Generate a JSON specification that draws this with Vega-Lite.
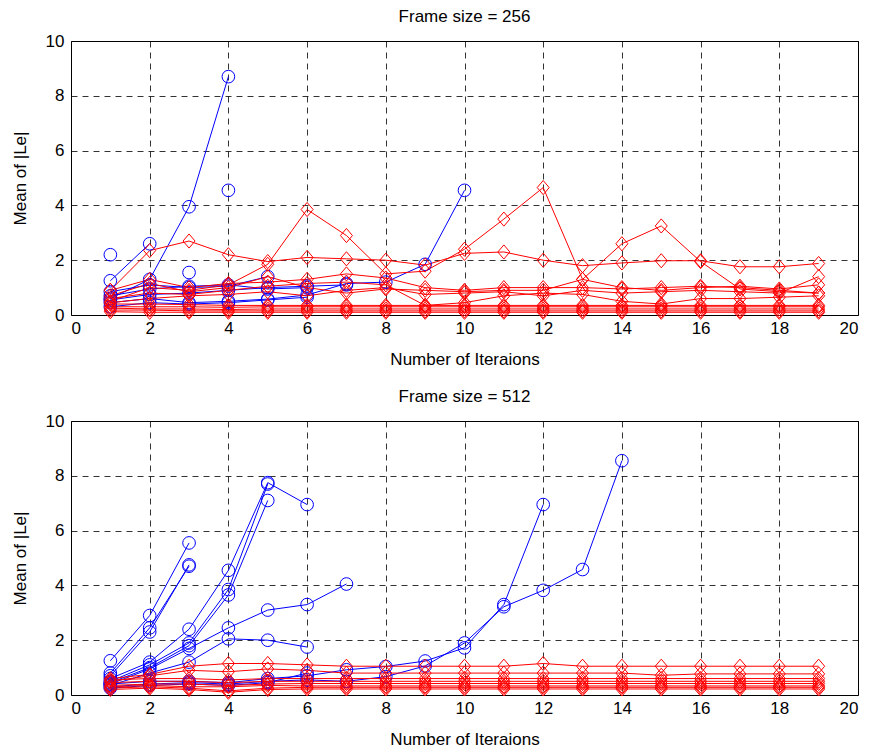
{
  "$schema": "https://vega.github.io/schema/vega-lite/v6.json",
  "padding": {"left": 10, "top": 7, "right": 10, "bottom": 0},
  "spacing": 106,
  "bounds": "flush",
  "config": {
    "font": "Liberation Sans",
    "view": {"stroke": "black", "strokeWidth": 1},
    "axis": {
      "grid": true, "gridColor": "black", "gridDash": [6, 5], "gridOpacity": 1, "gridWidth": 0.8,
      "domain": false, "ticks": false,
      "labelColor": "black", "labelFontSize": 17, "labelPadding": 7,
      "titleColor": "black", "titleFontSize": 17, "titleFontWeight": "normal"
    },
    "axisX": {"labelPadding": 5, "titlePadding": 15},
    "axisY": {"titlePadding": 16},
    "title": {"fontSize": 17, "fontWeight": "normal", "color": "black", "offset": 6, "frame": "group"}
  },
  "datasets": {
    "top": [
      {"s":"b1","c":"b","x":1,"y":1.25},{"s":"b1","c":"b","x":2,"y":2.6},
      {"s":"b2","c":"b","x":1,"y":0.6},{"s":"b2","c":"b","x":2,"y":1.3},{"s":"b2","c":"b","x":3,"y":3.95},{"s":"b2","c":"b","x":4,"y":8.7},
      {"s":"b3","c":"b","x":1,"y":2.2},
      {"s":"b4","c":"b","x":3,"y":1.55},
      {"s":"b5","c":"b","x":4,"y":4.55},
      {"s":"b6","c":"b","x":1,"y":0.85},{"s":"b6","c":"b","x":2,"y":1.1},{"s":"b6","c":"b","x":3,"y":1.0},{"s":"b6","c":"b","x":4,"y":1.05},{"s":"b6","c":"b","x":5,"y":1.4},
      {"s":"b7","c":"b","x":1,"y":0.55},{"s":"b7","c":"b","x":2,"y":0.75},{"s":"b7","c":"b","x":3,"y":0.8},{"s":"b7","c":"b","x":4,"y":0.9},{"s":"b7","c":"b","x":5,"y":1.0},{"s":"b7","c":"b","x":6,"y":1.05},{"s":"b7","c":"b","x":7,"y":1.1},
      {"s":"b8","c":"b","x":1,"y":0.45},{"s":"b8","c":"b","x":2,"y":0.6},{"s":"b8","c":"b","x":3,"y":0.45},{"s":"b8","c":"b","x":4,"y":0.5},{"s":"b8","c":"b","x":5,"y":0.58},{"s":"b8","c":"b","x":6,"y":0.73},{"s":"b8","c":"b","x":7,"y":1.15},{"s":"b8","c":"b","x":8,"y":1.2},{"s":"b8","c":"b","x":9,"y":1.85},{"s":"b8","c":"b","x":10,"y":4.55},
      {"s":"b9","c":"b","x":1,"y":0.7},{"s":"b9","c":"b","x":2,"y":0.95},{"s":"b9","c":"b","x":3,"y":1.05},{"s":"b9","c":"b","x":4,"y":1.1},{"s":"b9","c":"b","x":5,"y":0.95},{"s":"b9","c":"b","x":6,"y":1.0},
      {"s":"b10","c":"b","x":1,"y":0.3},{"s":"b10","c":"b","x":2,"y":0.45},{"s":"b10","c":"b","x":3,"y":0.4},{"s":"b10","c":"b","x":4,"y":0.45},{"s":"b10","c":"b","x":5,"y":0.55},{"s":"b10","c":"b","x":6,"y":0.65},

      {"s":"r1","c":"r","x":1,"y":0.9},{"s":"r1","c":"r","x":2,"y":2.35},{"s":"r1","c":"r","x":3,"y":2.7},{"s":"r1","c":"r","x":4,"y":2.2},{"s":"r1","c":"r","x":5,"y":1.95},{"s":"r1","c":"r","x":6,"y":2.1},{"s":"r1","c":"r","x":7,"y":2.05},{"s":"r1","c":"r","x":8,"y":2.0},{"s":"r1","c":"r","x":9,"y":1.82},{"s":"r1","c":"r","x":10,"y":2.25},{"s":"r1","c":"r","x":11,"y":2.3},{"s":"r1","c":"r","x":12,"y":2.0},{"s":"r1","c":"r","x":13,"y":1.8},{"s":"r1","c":"r","x":14,"y":1.9},{"s":"r1","c":"r","x":15,"y":1.98},{"s":"r1","c":"r","x":16,"y":1.98},{"s":"r1","c":"r","x":17,"y":1.76},{"s":"r1","c":"r","x":18,"y":1.76},{"s":"r1","c":"r","x":19,"y":1.88},
      {"s":"r2","c":"r","x":1,"y":0.5},{"s":"r2","c":"r","x":2,"y":1.0},{"s":"r2","c":"r","x":3,"y":0.9},{"s":"r2","c":"r","x":4,"y":1.1},{"s":"r2","c":"r","x":5,"y":1.85},{"s":"r2","c":"r","x":6,"y":3.85},{"s":"r2","c":"r","x":7,"y":2.9},{"s":"r2","c":"r","x":8,"y":1.5},{"s":"r2","c":"r","x":9,"y":1.6},{"s":"r2","c":"r","x":10,"y":2.4},{"s":"r2","c":"r","x":11,"y":3.5},{"s":"r2","c":"r","x":12,"y":4.65},{"s":"r2","c":"r","x":13,"y":1.3},{"s":"r2","c":"r","x":14,"y":2.6},{"s":"r2","c":"r","x":15,"y":3.25},{"s":"r2","c":"r","x":16,"y":1.95},{"s":"r2","c":"r","x":17,"y":0.95},{"s":"r2","c":"r","x":18,"y":0.85},{"s":"r2","c":"r","x":19,"y":0.8},
      {"s":"r3","c":"r","x":1,"y":0.9},{"s":"r3","c":"r","x":2,"y":1.3},{"s":"r3","c":"r","x":3,"y":1.0},{"s":"r3","c":"r","x":4,"y":1.15},{"s":"r3","c":"r","x":5,"y":1.2},{"s":"r3","c":"r","x":6,"y":1.3},{"s":"r3","c":"r","x":7,"y":1.5},{"s":"r3","c":"r","x":8,"y":1.35},{"s":"r3","c":"r","x":9,"y":1.0},{"s":"r3","c":"r","x":10,"y":0.9},{"s":"r3","c":"r","x":11,"y":1.0},{"s":"r3","c":"r","x":12,"y":1.0},{"s":"r3","c":"r","x":13,"y":1.0},{"s":"r3","c":"r","x":14,"y":0.95},{"s":"r3","c":"r","x":15,"y":1.0},{"s":"r3","c":"r","x":16,"y":1.05},{"s":"r3","c":"r","x":17,"y":1.0},{"s":"r3","c":"r","x":18,"y":0.9},{"s":"r3","c":"r","x":19,"y":0.8},
      {"s":"r4","c":"r","x":1,"y":0.7},{"s":"r4","c":"r","x":2,"y":1.15},{"s":"r4","c":"r","x":3,"y":0.85},{"s":"r4","c":"r","x":4,"y":1.0},{"s":"r4","c":"r","x":5,"y":1.4},{"s":"r4","c":"r","x":6,"y":1.0},{"s":"r4","c":"r","x":7,"y":0.8},{"s":"r4","c":"r","x":8,"y":0.95},{"s":"r4","c":"r","x":9,"y":0.9},{"s":"r4","c":"r","x":10,"y":0.85},{"s":"r4","c":"r","x":11,"y":0.9},{"s":"r4","c":"r","x":12,"y":0.9},{"s":"r4","c":"r","x":13,"y":1.3},{"s":"r4","c":"r","x":14,"y":1.0},{"s":"r4","c":"r","x":15,"y":0.9},{"s":"r4","c":"r","x":16,"y":1.0},{"s":"r4","c":"r","x":17,"y":1.05},{"s":"r4","c":"r","x":18,"y":0.95},{"s":"r4","c":"r","x":19,"y":1.1},
      {"s":"r5","c":"r","x":1,"y":0.6},{"s":"r5","c":"r","x":2,"y":0.8},{"s":"r5","c":"r","x":3,"y":0.75},{"s":"r5","c":"r","x":4,"y":0.9},{"s":"r5","c":"r","x":5,"y":1.05},{"s":"r5","c":"r","x":6,"y":1.15},{"s":"r5","c":"r","x":7,"y":1.2},{"s":"r5","c":"r","x":8,"y":1.1},{"s":"r5","c":"r","x":9,"y":0.35},{"s":"r5","c":"r","x":10,"y":0.45},{"s":"r5","c":"r","x":11,"y":0.7},{"s":"r5","c":"r","x":12,"y":0.8},{"s":"r5","c":"r","x":13,"y":0.75},{"s":"r5","c":"r","x":14,"y":0.5},{"s":"r5","c":"r","x":15,"y":0.4},{"s":"r5","c":"r","x":16,"y":0.6},{"s":"r5","c":"r","x":17,"y":0.6},{"s":"r5","c":"r","x":18,"y":0.65},{"s":"r5","c":"r","x":19,"y":0.7},
      {"s":"r6","c":"r","x":1,"y":0.45},{"s":"r6","c":"r","x":2,"y":0.6},{"s":"r6","c":"r","x":3,"y":0.7},{"s":"r6","c":"r","x":4,"y":0.75},{"s":"r6","c":"r","x":5,"y":0.85},{"s":"r6","c":"r","x":6,"y":0.7},{"s":"r6","c":"r","x":7,"y":0.9},{"s":"r6","c":"r","x":8,"y":1.0},{"s":"r6","c":"r","x":9,"y":0.75},{"s":"r6","c":"r","x":10,"y":0.8},{"s":"r6","c":"r","x":11,"y":0.85},{"s":"r6","c":"r","x":12,"y":0.7},{"s":"r6","c":"r","x":13,"y":0.9},{"s":"r6","c":"r","x":14,"y":0.8},{"s":"r6","c":"r","x":15,"y":0.85},{"s":"r6","c":"r","x":16,"y":0.9},{"s":"r6","c":"r","x":17,"y":0.85},{"s":"r6","c":"r","x":18,"y":0.8},{"s":"r6","c":"r","x":19,"y":1.4},
      {"s":"r7","c":"r","x":1,"y":0.4},{"s":"r7","c":"r","x":2,"y":0.4},{"s":"r7","c":"r","x":3,"y":0.38},{"s":"r7","c":"r","x":4,"y":0.35},{"s":"r7","c":"r","x":5,"y":0.35},{"s":"r7","c":"r","x":6,"y":0.35},{"s":"r7","c":"r","x":7,"y":0.35},{"s":"r7","c":"r","x":8,"y":0.35},{"s":"r7","c":"r","x":9,"y":0.35},{"s":"r7","c":"r","x":10,"y":0.35},{"s":"r7","c":"r","x":11,"y":0.35},{"s":"r7","c":"r","x":12,"y":0.35},{"s":"r7","c":"r","x":13,"y":0.35},{"s":"r7","c":"r","x":14,"y":0.35},{"s":"r7","c":"r","x":15,"y":0.35},{"s":"r7","c":"r","x":16,"y":0.35},{"s":"r7","c":"r","x":17,"y":0.35},{"s":"r7","c":"r","x":18,"y":0.35},{"s":"r7","c":"r","x":19,"y":0.35},
      {"s":"r8","c":"r","x":1,"y":0.3},{"s":"r8","c":"r","x":2,"y":0.3},{"s":"r8","c":"r","x":3,"y":0.3},{"s":"r8","c":"r","x":4,"y":0.28},{"s":"r8","c":"r","x":5,"y":0.3},{"s":"r8","c":"r","x":6,"y":0.3},{"s":"r8","c":"r","x":7,"y":0.3},{"s":"r8","c":"r","x":8,"y":0.3},{"s":"r8","c":"r","x":9,"y":0.3},{"s":"r8","c":"r","x":10,"y":0.3},{"s":"r8","c":"r","x":11,"y":0.3},{"s":"r8","c":"r","x":12,"y":0.3},{"s":"r8","c":"r","x":13,"y":0.3},{"s":"r8","c":"r","x":14,"y":0.3},{"s":"r8","c":"r","x":15,"y":0.3},{"s":"r8","c":"r","x":16,"y":0.3},{"s":"r8","c":"r","x":17,"y":0.3},{"s":"r8","c":"r","x":18,"y":0.3},{"s":"r8","c":"r","x":19,"y":0.3},
      {"s":"r9","c":"r","x":1,"y":0.25},{"s":"r9","c":"r","x":2,"y":0.22},{"s":"r9","c":"r","x":3,"y":0.22},{"s":"r9","c":"r","x":4,"y":0.2},{"s":"r9","c":"r","x":5,"y":0.22},{"s":"r9","c":"r","x":6,"y":0.22},{"s":"r9","c":"r","x":7,"y":0.22},{"s":"r9","c":"r","x":8,"y":0.22},{"s":"r9","c":"r","x":9,"y":0.22},{"s":"r9","c":"r","x":10,"y":0.22},{"s":"r9","c":"r","x":11,"y":0.22},{"s":"r9","c":"r","x":12,"y":0.22},{"s":"r9","c":"r","x":13,"y":0.22},{"s":"r9","c":"r","x":14,"y":0.22},{"s":"r9","c":"r","x":15,"y":0.22},{"s":"r9","c":"r","x":16,"y":0.22},{"s":"r9","c":"r","x":17,"y":0.22},{"s":"r9","c":"r","x":18,"y":0.22},{"s":"r9","c":"r","x":19,"y":0.22},
      {"s":"r10","c":"r","x":1,"y":0.18},{"s":"r10","c":"r","x":2,"y":0.18},{"s":"r10","c":"r","x":3,"y":0.15},{"s":"r10","c":"r","x":4,"y":0.15},{"s":"r10","c":"r","x":5,"y":0.15},{"s":"r10","c":"r","x":6,"y":0.15},{"s":"r10","c":"r","x":7,"y":0.15},{"s":"r10","c":"r","x":8,"y":0.15},{"s":"r10","c":"r","x":9,"y":0.15},{"s":"r10","c":"r","x":10,"y":0.15},{"s":"r10","c":"r","x":11,"y":0.15},{"s":"r10","c":"r","x":12,"y":0.15},{"s":"r10","c":"r","x":13,"y":0.15},{"s":"r10","c":"r","x":14,"y":0.15},{"s":"r10","c":"r","x":15,"y":0.15},{"s":"r10","c":"r","x":16,"y":0.15},{"s":"r10","c":"r","x":17,"y":0.15},{"s":"r10","c":"r","x":18,"y":0.15},{"s":"r10","c":"r","x":19,"y":0.15},
      {"s":"r11","c":"r","x":1,"y":0.12},{"s":"r11","c":"r","x":2,"y":0.1},{"s":"r11","c":"r","x":3,"y":0.1},{"s":"r11","c":"r","x":4,"y":0.1},{"s":"r11","c":"r","x":5,"y":0.1},{"s":"r11","c":"r","x":6,"y":0.1},{"s":"r11","c":"r","x":7,"y":0.1},{"s":"r11","c":"r","x":8,"y":0.1},{"s":"r11","c":"r","x":9,"y":0.1},{"s":"r11","c":"r","x":10,"y":0.1},{"s":"r11","c":"r","x":11,"y":0.1},{"s":"r11","c":"r","x":12,"y":0.1},{"s":"r11","c":"r","x":13,"y":0.1},{"s":"r11","c":"r","x":14,"y":0.1},{"s":"r11","c":"r","x":15,"y":0.1},{"s":"r11","c":"r","x":16,"y":0.1},{"s":"r11","c":"r","x":17,"y":0.1},{"s":"r11","c":"r","x":18,"y":0.1},{"s":"r11","c":"r","x":19,"y":0.1}
    ],
    "bot": [
      {"s":"c1","c":"b","x":1,"y":1.25},{"s":"c1","c":"b","x":2,"y":2.9},{"s":"c1","c":"b","x":3,"y":5.55},
      {"s":"c2","c":"b","x":1,"y":0.8},{"s":"c2","c":"b","x":2,"y":2.45},{"s":"c2","c":"b","x":3,"y":4.7},
      {"s":"c3","c":"b","x":1,"y":0.7},{"s":"c3","c":"b","x":2,"y":2.3},{"s":"c3","c":"b","x":3,"y":4.75},
      {"s":"c4","c":"b","x":1,"y":0.6},{"s":"c4","c":"b","x":2,"y":1.2},{"s":"c4","c":"b","x":3,"y":2.4},{"s":"c4","c":"b","x":4,"y":4.55},{"s":"c4","c":"b","x":5,"y":7.75},{"s":"c4","c":"b","x":6,"y":6.95},
      {"s":"c5","c":"b","x":1,"y":0.5},{"s":"c5","c":"b","x":2,"y":1.1},{"s":"c5","c":"b","x":3,"y":1.9},{"s":"c5","c":"b","x":4,"y":3.85},{"s":"c5","c":"b","x":5,"y":7.7},
      {"s":"c6","c":"b","x":1,"y":0.45},{"s":"c6","c":"b","x":2,"y":1.0},{"s":"c6","c":"b","x":3,"y":1.8},{"s":"c6","c":"b","x":4,"y":3.65},{"s":"c6","c":"b","x":5,"y":7.1},
      {"s":"c7","c":"b","x":1,"y":0.4},{"s":"c7","c":"b","x":2,"y":0.95},{"s":"c7","c":"b","x":3,"y":1.7},{"s":"c7","c":"b","x":4,"y":2.45},{"s":"c7","c":"b","x":5,"y":3.1},{"s":"c7","c":"b","x":6,"y":3.3},{"s":"c7","c":"b","x":7,"y":4.05},
      {"s":"c8","c":"b","x":1,"y":0.35},{"s":"c8","c":"b","x":2,"y":0.8},{"s":"c8","c":"b","x":3,"y":1.2},{"s":"c8","c":"b","x":4,"y":2.05},{"s":"c8","c":"b","x":5,"y":2.0},{"s":"c8","c":"b","x":6,"y":1.75},
      {"s":"c9","c":"b","x":1,"y":0.4},{"s":"c9","c":"b","x":2,"y":0.5},{"s":"c9","c":"b","x":3,"y":0.5},{"s":"c9","c":"b","x":4,"y":0.45},{"s":"c9","c":"b","x":5,"y":0.6},{"s":"c9","c":"b","x":6,"y":0.7},{"s":"c9","c":"b","x":7,"y":0.92},{"s":"c9","c":"b","x":8,"y":1.04},{"s":"c9","c":"b","x":9,"y":1.24},{"s":"c9","c":"b","x":10,"y":1.72},{"s":"c9","c":"b","x":11,"y":3.3},{"s":"c9","c":"b","x":12,"y":6.95},
      {"s":"c10","c":"b","x":1,"y":0.3},{"s":"c10","c":"b","x":2,"y":0.4},{"s":"c10","c":"b","x":3,"y":0.45},{"s":"c10","c":"b","x":4,"y":0.4},{"s":"c10","c":"b","x":5,"y":0.5},{"s":"c10","c":"b","x":6,"y":0.55},{"s":"c10","c":"b","x":7,"y":0.5},{"s":"c10","c":"b","x":8,"y":0.67},{"s":"c10","c":"b","x":9,"y":1.06},{"s":"c10","c":"b","x":10,"y":1.9},{"s":"c10","c":"b","x":11,"y":3.22},{"s":"c10","c":"b","x":12,"y":3.82},{"s":"c10","c":"b","x":13,"y":4.58},{"s":"c10","c":"b","x":14,"y":8.55},
      {"s":"c11","c":"b","x":1,"y":0.25},{"s":"c11","c":"b","x":2,"y":0.35},{"s":"c11","c":"b","x":3,"y":0.4},{"s":"c11","c":"b","x":4,"y":0.35},{"s":"c11","c":"b","x":5,"y":0.45},{"s":"c11","c":"b","x":6,"y":0.8},

      {"s":"d1","c":"r","x":1,"y":0.6},{"s":"d1","c":"r","x":2,"y":0.75},{"s":"d1","c":"r","x":3,"y":1.05},{"s":"d1","c":"r","x":4,"y":1.15},{"s":"d1","c":"r","x":5,"y":1.15},{"s":"d1","c":"r","x":6,"y":1.1},{"s":"d1","c":"r","x":7,"y":1.05},{"s":"d1","c":"r","x":8,"y":1.05},{"s":"d1","c":"r","x":9,"y":1.05},{"s":"d1","c":"r","x":10,"y":1.05},{"s":"d1","c":"r","x":11,"y":1.05},{"s":"d1","c":"r","x":12,"y":1.15},{"s":"d1","c":"r","x":13,"y":1.05},{"s":"d1","c":"r","x":14,"y":1.05},{"s":"d1","c":"r","x":15,"y":1.05},{"s":"d1","c":"r","x":16,"y":1.05},{"s":"d1","c":"r","x":17,"y":1.05},{"s":"d1","c":"r","x":18,"y":1.05},{"s":"d1","c":"r","x":19,"y":1.05},
      {"s":"d2","c":"r","x":1,"y":0.5},{"s":"d2","c":"r","x":2,"y":0.7},{"s":"d2","c":"r","x":3,"y":0.9},{"s":"d2","c":"r","x":4,"y":0.85},{"s":"d2","c":"r","x":5,"y":0.95},{"s":"d2","c":"r","x":6,"y":0.9},{"s":"d2","c":"r","x":7,"y":0.8},{"s":"d2","c":"r","x":8,"y":0.8},{"s":"d2","c":"r","x":9,"y":0.8},{"s":"d2","c":"r","x":10,"y":0.8},{"s":"d2","c":"r","x":11,"y":0.8},{"s":"d2","c":"r","x":12,"y":0.8},{"s":"d2","c":"r","x":13,"y":0.8},{"s":"d2","c":"r","x":14,"y":0.8},{"s":"d2","c":"r","x":15,"y":0.72},{"s":"d2","c":"r","x":16,"y":0.77},{"s":"d2","c":"r","x":17,"y":0.77},{"s":"d2","c":"r","x":18,"y":0.77},{"s":"d2","c":"r","x":19,"y":0.77},
      {"s":"d3","c":"r","x":1,"y":0.55},{"s":"d3","c":"r","x":2,"y":0.6},{"s":"d3","c":"r","x":3,"y":0.6},{"s":"d3","c":"r","x":4,"y":0.55},{"s":"d3","c":"r","x":5,"y":0.6},{"s":"d3","c":"r","x":6,"y":0.6},{"s":"d3","c":"r","x":7,"y":0.6},{"s":"d3","c":"r","x":8,"y":0.6},{"s":"d3","c":"r","x":9,"y":0.6},{"s":"d3","c":"r","x":10,"y":0.6},{"s":"d3","c":"r","x":11,"y":0.6},{"s":"d3","c":"r","x":12,"y":0.6},{"s":"d3","c":"r","x":13,"y":0.6},{"s":"d3","c":"r","x":14,"y":0.6},{"s":"d3","c":"r","x":15,"y":0.6},{"s":"d3","c":"r","x":16,"y":0.6},{"s":"d3","c":"r","x":17,"y":0.6},{"s":"d3","c":"r","x":18,"y":0.6},{"s":"d3","c":"r","x":19,"y":0.6},
      {"s":"d4","c":"r","x":1,"y":0.45},{"s":"d4","c":"r","x":2,"y":0.5},{"s":"d4","c":"r","x":3,"y":0.5},{"s":"d4","c":"r","x":4,"y":0.45},{"s":"d4","c":"r","x":5,"y":0.5},{"s":"d4","c":"r","x":6,"y":0.5},{"s":"d4","c":"r","x":7,"y":0.5},{"s":"d4","c":"r","x":8,"y":0.5},{"s":"d4","c":"r","x":9,"y":0.5},{"s":"d4","c":"r","x":10,"y":0.5},{"s":"d4","c":"r","x":11,"y":0.5},{"s":"d4","c":"r","x":12,"y":0.5},{"s":"d4","c":"r","x":13,"y":0.5},{"s":"d4","c":"r","x":14,"y":0.5},{"s":"d4","c":"r","x":15,"y":0.5},{"s":"d4","c":"r","x":16,"y":0.5},{"s":"d4","c":"r","x":17,"y":0.5},{"s":"d4","c":"r","x":18,"y":0.5},{"s":"d4","c":"r","x":19,"y":0.5},
      {"s":"d5","c":"r","x":1,"y":0.35},{"s":"d5","c":"r","x":2,"y":0.4},{"s":"d5","c":"r","x":3,"y":0.4},{"s":"d5","c":"r","x":4,"y":0.35},{"s":"d5","c":"r","x":5,"y":0.4},{"s":"d5","c":"r","x":6,"y":0.42},{"s":"d5","c":"r","x":7,"y":0.42},{"s":"d5","c":"r","x":8,"y":0.42},{"s":"d5","c":"r","x":9,"y":0.42},{"s":"d5","c":"r","x":10,"y":0.42},{"s":"d5","c":"r","x":11,"y":0.42},{"s":"d5","c":"r","x":12,"y":0.42},{"s":"d5","c":"r","x":13,"y":0.42},{"s":"d5","c":"r","x":14,"y":0.42},{"s":"d5","c":"r","x":15,"y":0.42},{"s":"d5","c":"r","x":16,"y":0.42},{"s":"d5","c":"r","x":17,"y":0.42},{"s":"d5","c":"r","x":18,"y":0.42},{"s":"d5","c":"r","x":19,"y":0.42},
      {"s":"d6","c":"r","x":1,"y":0.3},{"s":"d6","c":"r","x":2,"y":0.35},{"s":"d6","c":"r","x":3,"y":0.3},{"s":"d6","c":"r","x":4,"y":0.3},{"s":"d6","c":"r","x":5,"y":0.35},{"s":"d6","c":"r","x":6,"y":0.33},{"s":"d6","c":"r","x":7,"y":0.33},{"s":"d6","c":"r","x":8,"y":0.33},{"s":"d6","c":"r","x":9,"y":0.33},{"s":"d6","c":"r","x":10,"y":0.33},{"s":"d6","c":"r","x":11,"y":0.33},{"s":"d6","c":"r","x":12,"y":0.33},{"s":"d6","c":"r","x":13,"y":0.33},{"s":"d6","c":"r","x":14,"y":0.33},{"s":"d6","c":"r","x":15,"y":0.33},{"s":"d6","c":"r","x":16,"y":0.33},{"s":"d6","c":"r","x":17,"y":0.33},{"s":"d6","c":"r","x":18,"y":0.33},{"s":"d6","c":"r","x":19,"y":0.33},
      {"s":"d7","c":"r","x":1,"y":0.25},{"s":"d7","c":"r","x":2,"y":0.3},{"s":"d7","c":"r","x":3,"y":0.25},{"s":"d7","c":"r","x":4,"y":0.15},{"s":"d7","c":"r","x":5,"y":0.25},{"s":"d7","c":"r","x":6,"y":0.28},{"s":"d7","c":"r","x":7,"y":0.28},{"s":"d7","c":"r","x":8,"y":0.28},{"s":"d7","c":"r","x":9,"y":0.28},{"s":"d7","c":"r","x":10,"y":0.28},{"s":"d7","c":"r","x":11,"y":0.28},{"s":"d7","c":"r","x":12,"y":0.28},{"s":"d7","c":"r","x":13,"y":0.28},{"s":"d7","c":"r","x":14,"y":0.28},{"s":"d7","c":"r","x":15,"y":0.28},{"s":"d7","c":"r","x":16,"y":0.28},{"s":"d7","c":"r","x":17,"y":0.28},{"s":"d7","c":"r","x":18,"y":0.28},{"s":"d7","c":"r","x":19,"y":0.28},
      {"s":"d8","c":"r","x":1,"y":0.2},{"s":"d8","c":"r","x":2,"y":0.25},{"s":"d8","c":"r","x":3,"y":0.2},{"s":"d8","c":"r","x":4,"y":0.1},{"s":"d8","c":"r","x":5,"y":0.2},{"s":"d8","c":"r","x":6,"y":0.22},{"s":"d8","c":"r","x":7,"y":0.22},{"s":"d8","c":"r","x":8,"y":0.22},{"s":"d8","c":"r","x":9,"y":0.22},{"s":"d8","c":"r","x":10,"y":0.22},{"s":"d8","c":"r","x":11,"y":0.22},{"s":"d8","c":"r","x":12,"y":0.22},{"s":"d8","c":"r","x":13,"y":0.22},{"s":"d8","c":"r","x":14,"y":0.22},{"s":"d8","c":"r","x":15,"y":0.22},{"s":"d8","c":"r","x":16,"y":0.22},{"s":"d8","c":"r","x":17,"y":0.22},{"s":"d8","c":"r","x":18,"y":0.22},{"s":"d8","c":"r","x":19,"y":0.22}
    ]
  },
  "vconcat": [
    {
      "title": "Frame size = 256",
      "width": 787, "height": 274,
      "data": {"name": "top"},
      "encoding": {
        "x": {"field": "x", "type": "quantitative", "scale": {"domain": [0, 20], "nice": false}, "axis": {"values": [0,2,4,6,8,10,12,14,16,18,20], "title": "Number of Iteraions"}},
        "y": {"field": "y", "type": "quantitative", "scale": {"domain": [0, 10], "nice": false}, "axis": {"values": [0,2,4,6,8,10], "title": "Mean of |Le|"}},
        "color": {"field": "c", "type": "nominal", "scale": {"domain": ["b", "r"], "range": ["#0000ff", "#ff0000"]}, "legend": null}
      },
      "layer": [
        {"mark": {"type": "line", "strokeWidth": 1}, "encoding": {"detail": {"field": "s"}}},
        {"mark": {"type": "point", "filled": false, "strokeWidth": 1, "opacity": 1}, "encoding": {
          "shape": {"field": "c", "type": "nominal", "scale": {"domain": ["b", "r"], "range": ["circle", "M-0.85,0L0,-1L0.85,0L0,1Z"]}, "legend": null},
          "size": {"field": "c", "type": "nominal", "scale": {"domain": ["b", "r"], "range": [160, 200]}, "legend": null}
        }}
      ]
    },
    {
      "title": "Frame size = 512",
      "width": 787, "height": 274,
      "data": {"name": "bot"},
      "encoding": {
        "x": {"field": "x", "type": "quantitative", "scale": {"domain": [0, 20], "nice": false}, "axis": {"values": [0,2,4,6,8,10,12,14,16,18,20], "title": "Number of Iteraions"}},
        "y": {"field": "y", "type": "quantitative", "scale": {"domain": [0, 10], "nice": false}, "axis": {"values": [0,2,4,6,8,10], "title": "Mean of |Le|"}},
        "color": {"field": "c", "type": "nominal", "scale": {"domain": ["b", "r"], "range": ["#0000ff", "#ff0000"]}, "legend": null}
      },
      "layer": [
        {"mark": {"type": "line", "strokeWidth": 1}, "encoding": {"detail": {"field": "s"}}},
        {"mark": {"type": "point", "filled": false, "strokeWidth": 1, "opacity": 1}, "encoding": {
          "shape": {"field": "c", "type": "nominal", "scale": {"domain": ["b", "r"], "range": ["circle", "M-0.85,0L0,-1L0.85,0L0,1Z"]}, "legend": null},
          "size": {"field": "c", "type": "nominal", "scale": {"domain": ["b", "r"], "range": [160, 200]}, "legend": null}
        }}
      ]
    }
  ]
}
